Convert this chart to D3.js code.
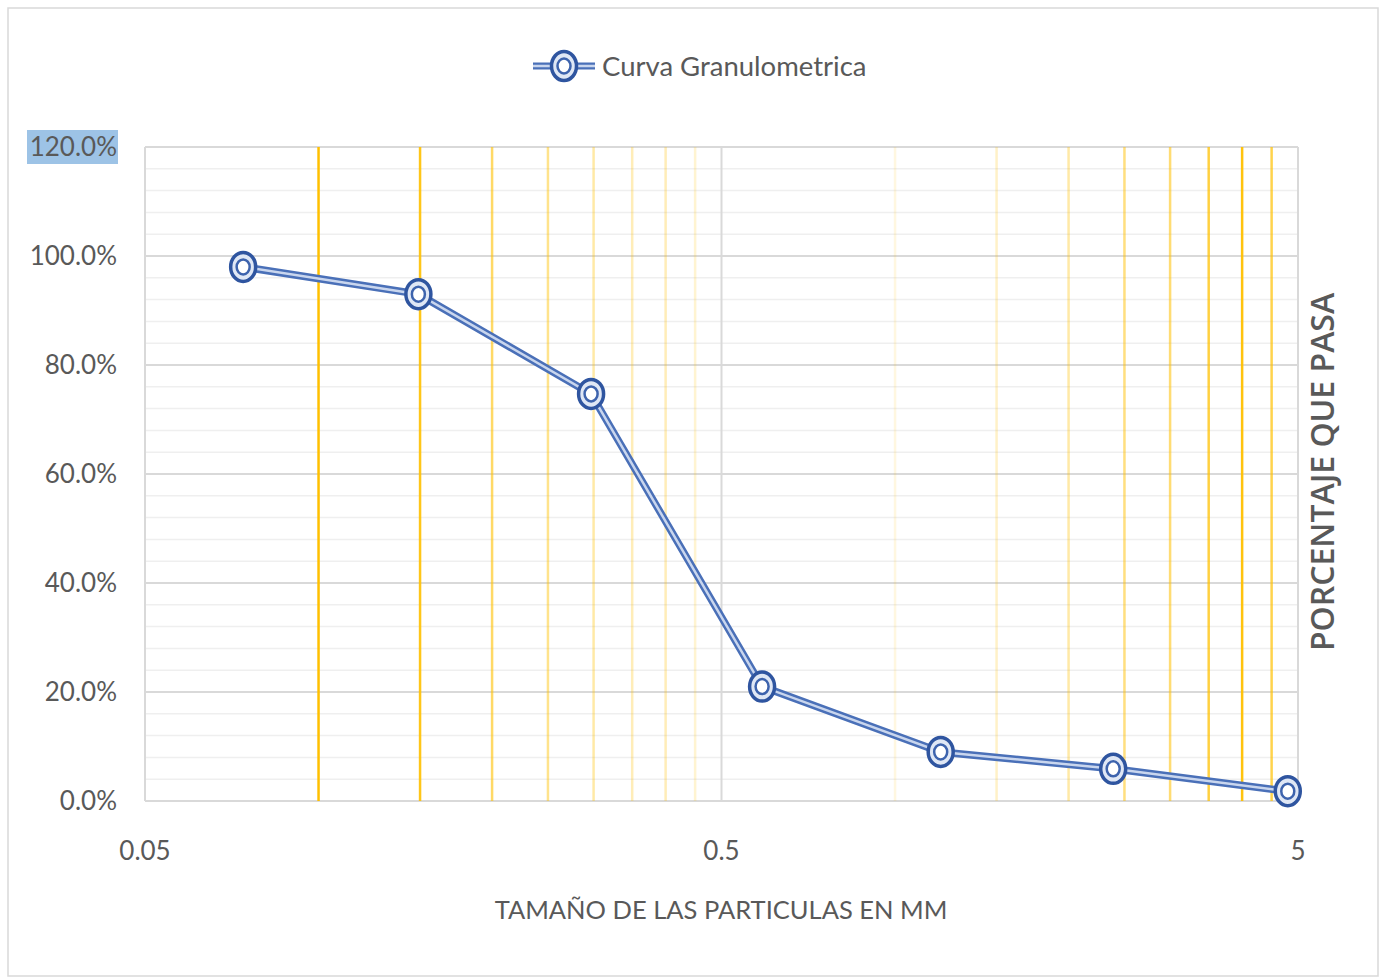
<!DOCTYPE html>
<html>
<head>
<meta charset="utf-8">
<script src="https://cdn.jsdelivr.net/npm/d3@7/dist/d3.min.js"></script>
<style>
  body { margin: 0; background: #fff; }
  svg text { font-family: Lato, "Open Sans", sans-serif; }
</style>
</head>
<body>
<div id="chart"></div>
<script>
// Data
const sizesMm = [0.074, 0.149, 0.297, 0.588, 1.2, 2.39, 4.8];
const percentPassing = [98.0, 93.0, 74.7, 21.0, 9.0, 5.9, 1.8];
const xTicks = [0.05, 0.5, 5];
const xMinor = [0.1, 0.15, 0.2, 0.25, 0.3, 0.35, 0.4, 0.45, 1, 1.5, 2, 2.5, 3, 3.5, 4, 4.5];
const yTicks = [0, 20, 40, 60, 80, 100, 120];
const yMinor = d3.range(0, 121, 4);
const seriesName = 'Curva Granulometrica';
const xTitle = 'TAMAÑO DE LAS PARTICULAS EN MM';
const yTitle = 'PORCENTAJE QUE PASA';

// yellow gridline strengths (style only)
const minorOpacity = [1, 0.9, 0.6, 0.45, 0.35, 0.28, 0.28, 0.18, 0.12, 0.22, 0.35, 0.5, 0.55, 0.75, 0.95, 0.7];

const W = 1384, H = 978;
const margin = { top: 147, right: 86, bottom: 177, left: 145 };

const svg = d3.select('#chart').append('svg')
  .attr('width', W)
  .attr('height', H);

// chart border
svg.append('rect')
  .attr('x', 8).attr('y', 8)
  .attr('width', W - 14).attr('height', H - 10)
  .attr('fill', '#fff')
  .attr('stroke', '#d9d9d9')
  .attr('stroke-width', 1.5);

const x = d3.scaleLog()
  .domain([0.05, 5])
  .range([margin.left, W - margin.right]);

const y = d3.scaleLinear()
  .domain([0, 120])
  .range([H - margin.bottom, margin.top]);

const grid = svg.append('g');

// horizontal minor gridlines
grid.selectAll('.hminor')
  .data(yMinor)
  .enter().append('line')
  .attr('x1', x.range()[0]).attr('x2', x.range()[1])
  .attr('y1', d => y(d)).attr('y2', d => y(d))
  .attr('stroke', '#efefef')
  .attr('stroke-width', 1.5);

// horizontal major gridlines
grid.selectAll('.hmajor')
  .data(yTicks)
  .enter().append('line')
  .attr('x1', x.range()[0]).attr('x2', x.range()[1])
  .attr('y1', d => y(d)).attr('y2', d => y(d))
  .attr('stroke', '#d9d9d9')
  .attr('stroke-width', 2);

// vertical yellow minor gridlines
grid.selectAll('.vminor')
  .data(xMinor)
  .enter().append('line')
  .attr('x1', d => x(d)).attr('x2', d => x(d))
  .attr('y1', y(0)).attr('y2', y(120))
  .attr('stroke', '#FFC000')
  .attr('stroke-opacity', (d, i) => minorOpacity[i])
  .attr('stroke-width', 2.5);

// vertical major gridlines
grid.selectAll('.vmajor')
  .data(xTicks)
  .enter().append('line')
  .attr('x1', d => x(d)).attr('x2', d => x(d))
  .attr('y1', y(0)).attr('y2', y(120))
  .attr('stroke', '#d9d9d9')
  .attr('stroke-width', 2);

// axis labels
svg.append('rect')
  .attr('x', 27).attr('y', y(120) - 17)
  .attr('width', 91).attr('height', 34)
  .attr('fill', '#9dc3e6');

svg.selectAll('.ylab')
  .data(yTicks)
  .enter().append('text')
  .attr('x', 117)
  .attr('y', d => y(d))
  .attr('dy', '0.35em')
  .attr('text-anchor', 'end')
  .attr('fill', '#595959')
  .style('font-size', '26px')
  .text(d => d.toFixed(1) + '%');

svg.selectAll('.xlab')
  .data(xTicks)
  .enter().append('text')
  .attr('x', d => x(d))
  .attr('y', 860)
  .attr('text-anchor', 'middle')
  .attr('fill', '#595959')
  .style('font-size', '26px')
  .text(d => d);

svg.append('text')
  .attr('x', 721).attr('y', 919)
  .attr('text-anchor', 'middle')
  .attr('fill', '#595959')
  .style('font-size', '25.5px')
  .text(xTitle);

svg.append('text')
  .attr('transform', 'translate(1334, 472) rotate(-90)')
  .attr('text-anchor', 'middle')
  .attr('fill', '#595959')
  .style('font-family', '"Open Sans", sans-serif')
  .style('font-size', '32px')
  .style('font-weight', 600)
  .text(yTitle);

// series
const points = sizesMm.map((d, i) => [d, percentPassing[i]]);
const line = d3.line().x(d => x(d[0])).y(d => y(d[1]));

function drawMarker(g, cx, cy) {
  g.append('ellipse')
    .attr('cx', cx).attr('cy', cy).attr('rx', 12.5).attr('ry', 14.5)
    .attr('fill', '#dfe7f5')
    .attr('stroke', '#2f55a0')
    .attr('stroke-width', 3.5);
  g.append('ellipse')
    .attr('cx', cx).attr('cy', cy).attr('rx', 6.5).attr('ry', 7.5)
    .attr('fill', '#ffffff')
    .attr('stroke', '#3d63ad')
    .attr('stroke-width', 2.5);
}

const series = svg.append('g');
series.append('path')
  .datum(points)
  .attr('d', line)
  .attr('fill', 'none')
  .attr('stroke', '#4a70b8')
  .attr('stroke-width', 7.5);
series.append('path')
  .datum(points)
  .attr('d', line)
  .attr('fill', 'none')
  .attr('stroke', '#c9d6ee')
  .attr('stroke-width', 2.5);

points.forEach(d => drawMarker(series, x(d[0]), y(d[1])));

// legend
const legend = svg.append('g');
legend.append('line')
  .attr('x1', 533).attr('x2', 595)
  .attr('y1', 66).attr('y2', 66)
  .attr('stroke', '#4a70b8').attr('stroke-width', 7);
legend.append('line')
  .attr('x1', 533).attr('x2', 595)
  .attr('y1', 66).attr('y2', 66)
  .attr('stroke', '#c9d6ee').attr('stroke-width', 2.5);
drawMarker(legend, 564, 66);
legend.append('text')
  .attr('x', 602).attr('y', 66)
  .attr('dy', '0.35em')
  .attr('fill', '#595959')
  .style('font-size', '27.5px')
  .text(seriesName);
</script>
</body>
</html>
